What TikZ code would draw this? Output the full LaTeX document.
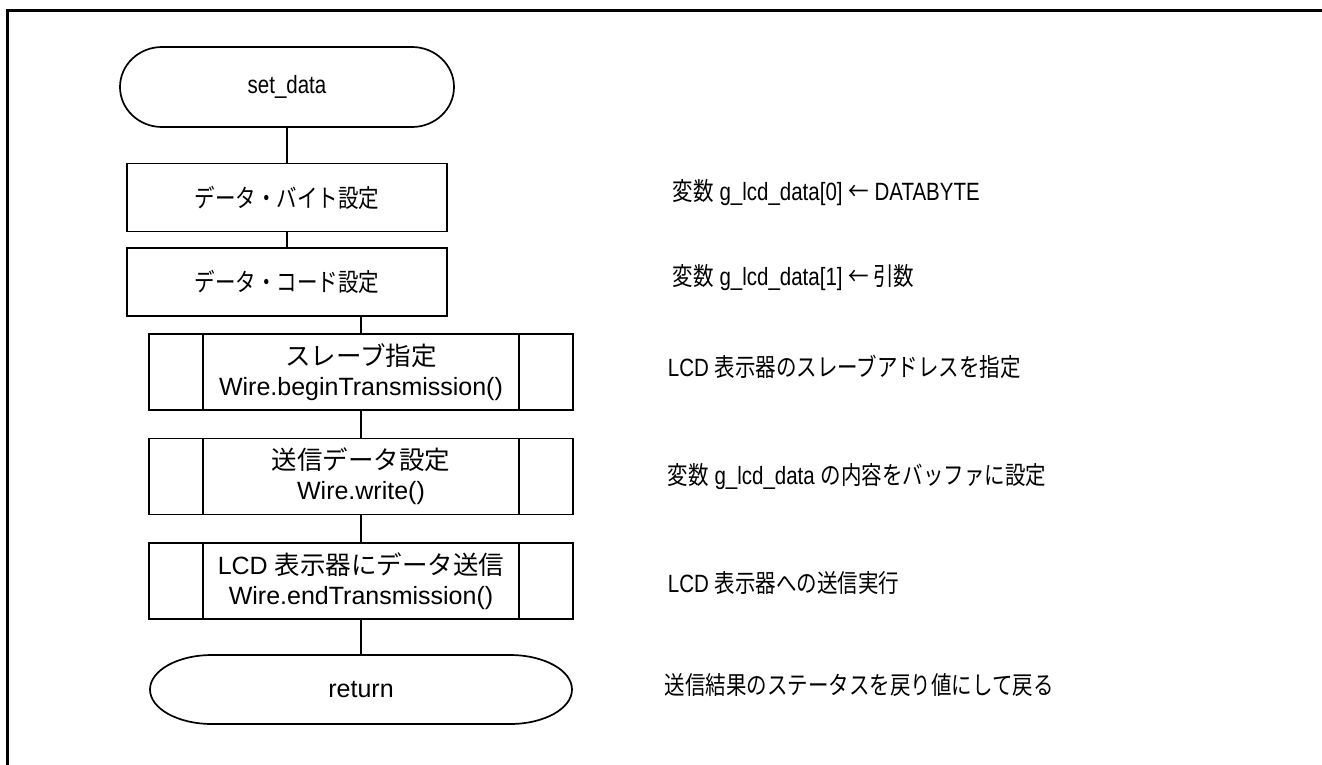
\documentclass[tikz,border=0pt]{standalone}
\usepackage{fontspec}
\setmainfont{Liberation Sans}
\newfontfamily\latc{Liberation Sans}[FakeStretch=0.82]
\newfontfamily\jpn{Noto Sans CJK JP}[Scale=1.02]
\newfontfamily\jpc{Noto Sans CJK JP}[FakeStretch=0.82]
\let\jp\jpn
\usetikzlibrary{positioning}

% outline of a terminal node: name, x radius, y radius
\newcommand{\termoutline}[3]{%
  \draw ([xshift=#2]#1.north west) -- ([xshift=-#2]#1.north east)
    arc[start angle=90, end angle=-90, x radius=#2, y radius=#3]
    -- ([xshift=#2]#1.south west)
    arc[start angle=270, end angle=90, x radius=#2, y radius=#3] -- cycle;}

\begin{document}
\begin{tikzpicture}[
            x=1pt, y=-1pt, line width=1.7pt,
            every node/.style={font=\fontsize{25}{30}\selectfont},
            narrow/.style={font=\fontsize{25}{30}\latc\let\jp\jpc},
            term node/.style={inner sep=0pt, outer sep=0pt},
            proc node/.style={draw, narrow, inner sep=0pt, minimum width=320pt, minimum height=68pt},
            sub node/.style={draw, inner sep=0pt, align=center,
              minimum width=424pt, minimum height=76pt,
              path picture={\draw
                ([xshift=54pt]path picture bounding box.north west) --
                ([xshift=54pt]path picture bounding box.south west)
                ([xshift=-54pt]path picture bounding box.north east) --
                ([xshift=-54pt]path picture bounding box.south east);}},
            note node/.style={narrow, anchor=west, inner sep=0pt},
            ]
            \useasboundingbox (0,0) rectangle (1322,764);
            \draw[line width=3pt] (7.5,10) rectangle (1340,790);

            \node[term node, narrow, minimum width=334pt, minimum height=80pt] (start) at (287,87) {set\_data};
            \termoutline{start}{42pt}{40pt}
            \node[proc node] (setbyte) at (287,197.5) {\jp データ・バイト設定};
            \node[proc node] (setcode) at (287,282) {\jp データ・コード設定};
            \node[sub node] (slave) at (361,372) {{\jp スレーブ指定}\\Wire.beginTransmission()};
            \node[sub node] (write) at (361,476.5) {{\jp 送信データ設定}\\Wire.write()};
            \node[sub node] (send) at (361,581) {LCD {\jp 表示器にデータ送信}\\Wire.endTransmission()};
            \node[term node, minimum width=422pt, minimum height=69pt] (ret) at (361,689.5) {return};
            \termoutline{ret}{62pt}{34.5pt}

            \draw (start) -- (setbyte);
            \draw (setbyte) -- (setcode);
            \draw (slave.north) -- (slave.north |- setcode.south);
            \draw (slave) -- (write) -- (send) -- (ret);

            \node[note node] (n1) at (672,193) {{\jp 変数} g\_lcd\_data[0] {\jp ←} DATABYTE};
            \node[note node] (n2) at (672,278) {{\jp 変数} g\_lcd\_data[1] {\jp ← 引数}};
            \node[note node] (n3) at (667,367) {LCD {\jp 表示器のスレーブアドレスを指定}};
            \node[note node] (n4) at (667,477) {{\jp 変数} g\_lcd\_data {\jp の内容をバッファに設定}};
            \node[note node] (n5) at (667,583) {LCD {\jp 表示器への送信実行}};
            \node[note node] (n6) at (664,685) {\jp 送信結果のステータスを戻り値にして戻る};
        \end{tikzpicture}
\end{document}
